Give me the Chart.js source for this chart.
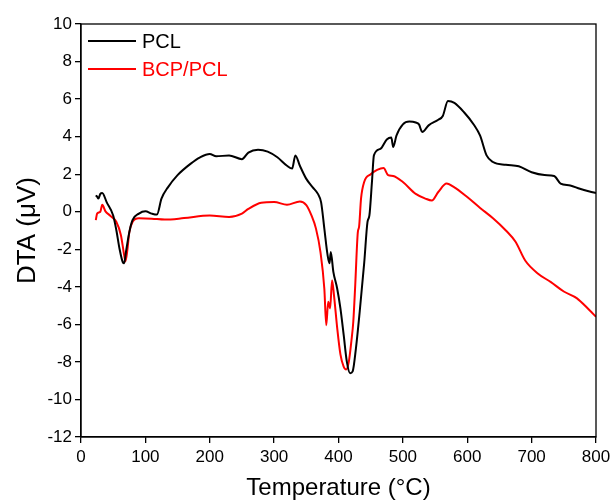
<!DOCTYPE html>
<html>
<head>
<meta charset="utf-8">
<script src="https://cdn.jsdelivr.net/npm/chart.js@4.4.0/dist/chart.umd.min.js"></script>
<style>
html,body{margin:0;padding:0;background:#fff;}
#wrap{width:610px;height:503px;}
</style>
</head>
<body>
<div id="wrap"><canvas id="c" width="610" height="503"></canvas></div>
<script>
const xTicks = [0,100,200,300,400,500,600,700,800];
const yTicks = [-12,-10,-8,-6,-4,-2,0,2,4,6,8,10];
const seriesNames = ["PCL","BCP/PCL"];

const pclT = [23,25,27,30,33,40,50,55,60,65,67,70,75,80,90,100,110,118,125,135,150,170,185,200,210,230,250,260,275,290,305,320,328,333,340,350,360,368,373,378,383,386,388,392,398,403,408,413,418,422,427,433,440,445,448,452,455,465,475,482,485,490,500,510,520,525,530,540,555,562,570,580,595,610,620,630,640,660,680,700,720,735,745,760,775,790,800];
const pclV = [0.87,0.8,0.7,0.95,1.0,0.5,-0.2,-1.0,-2.0,-2.7,-2.75,-2.1,-1.1,-0.45,-0.1,0.02,-0.1,-0.15,0.7,1.3,1.95,2.55,2.9,3.08,2.95,3.0,2.8,3.15,3.3,3.2,2.9,2.45,2.3,3.0,2.45,1.75,1.3,0.95,0.5,-0.9,-2.3,-2.75,-2.15,-3.2,-4.1,-5.15,-6.55,-8.0,-8.6,-8.5,-7.3,-5.3,-2.7,-0.55,-0.2,1.6,3.0,3.35,3.85,3.95,3.45,4.05,4.65,4.8,4.75,4.65,4.25,4.6,4.9,5.1,5.9,5.8,5.3,4.65,4.05,3.0,2.65,2.5,2.42,2.1,1.95,1.9,1.5,1.4,1.22,1.08,1.0];

const bcpT = [23,25,30,33,38,45,55,62,67,69,72,75,80,90,110,130,160,200,230,250,260,280,300,320,340,350,358,365,372,378,381,384,387,390,393,398,403,408,412,416,420,423,426,430,432,435,440,450,460,470,477,485,500,520,535,545,555,568,580,600,620,640,660,675,690,710,730,750,770,790,800];
const bcpV = [-0.45,-0.1,0,0.37,0.02,-0.2,-0.55,-1.25,-2.3,-2.65,-2.05,-1.1,-0.55,-0.35,-0.37,-0.42,-0.34,-0.2,-0.28,-0.1,0.15,0.48,0.52,0.37,0.55,0.35,-0.2,-0.9,-2.15,-4.1,-6.05,-4.8,-5.15,-3.65,-4.45,-6.2,-7.6,-8.25,-8.4,-8.0,-6.9,-5.85,-3.9,-1.1,-0.8,0.7,1.6,2.0,2.23,2.33,1.95,1.9,1.58,0.95,0.7,0.6,1.05,1.5,1.3,0.78,0.2,-0.35,-1.0,-1.6,-2.6,-3.3,-3.75,-4.25,-4.6,-5.25,-5.6];

const colors = ["#000000","#ff0000"];
const FONT = "'Liberation Sans', Arial, sans-serif";

function pts(t,v){ return t.map((x,i)=>({x:x,y:v[i]})); }

const frame = {
  id:'frame',
  afterDraw(chart){
    const {ctx, chartArea:a} = chart;
    ctx.save();
    ctx.strokeStyle='#000'; ctx.lineWidth=1.3;
    ctx.strokeRect(a.left, a.top, a.right-a.left, a.bottom-a.top);
    ctx.font = "20px " + FONT;
    ctx.textBaseline='middle';
    const ys = [a.top+17, a.top+45];
    seriesNames.forEach((n,i)=>{
      const y = ys[i];
      ctx.strokeStyle = colors[i]; ctx.lineWidth=2;
      ctx.beginPath(); ctx.moveTo(a.left+7,y); ctx.lineTo(a.left+55,y); ctx.stroke();
      ctx.fillStyle = colors[i];
      ctx.fillText(n, a.left+61, y+1);
    });
    ctx.restore();
  }
};

new Chart(document.getElementById('c'), {
  type:'line',
  data:{
    datasets:[
      {label:seriesNames[0], data:pts(pclT,pclV), borderColor:colors[0], borderWidth:2, pointRadius:0, cubicInterpolationMode:'monotone', fill:false},
      {label:seriesNames[1], data:pts(bcpT,bcpV), borderColor:colors[1], borderWidth:2, pointRadius:0, cubicInterpolationMode:'monotone', fill:false}
    ]
  },
  options:{
    responsive:false,
    animation:false,
    devicePixelRatio:1,
    layout:{padding:{top:24,right:14,left:0,bottom:0}},
    plugins:{legend:{display:false}, tooltip:{enabled:false}},
    scales:{
      x:{
        type:'linear', min:0, max:800,
        afterBuildTicks(s){ s.ticks = xTicks.map(v=>({value:v})); },
        afterFit(s){ s.height = 66; s.paddingRight = 0; s.paddingLeft = 0; },
        grid:{display:true, drawOnChartArea:false, drawTicks:true, tickLength:6, color:'#000', lineWidth:1.3},
        border:{display:true, color:'#000', width:1.3},
        ticks:{color:'#000', font:{family:FONT, size:17}, padding:4, maxRotation:0},
        title:{display:true, text:'Temperature (°C)', color:'#000', font:{family:FONT, size:24}, padding:{top:2,bottom:0}}
      },
      y:{
        type:'linear', min:-12, max:10,
        afterBuildTicks(s){ s.ticks = yTicks.map(v=>({value:v})); },
        afterFit(s){ s.width = 81; s.paddingTop = 0; s.paddingBottom = 0; },
        grid:{display:true, drawOnChartArea:false, drawTicks:true, tickLength:6, color:'#000', lineWidth:1.3},
        border:{display:true, color:'#000', width:1.3},
        ticks:{color:'#000', font:{family:FONT, size:17}, padding:3},
        title:{display:true, text:'DTA (μV)', color:'#000', font:{family:FONT, size:26}, padding:{top:12,bottom:0}}
      }
    }
  },
  plugins:[frame]
});
</script>
</body>
</html>
